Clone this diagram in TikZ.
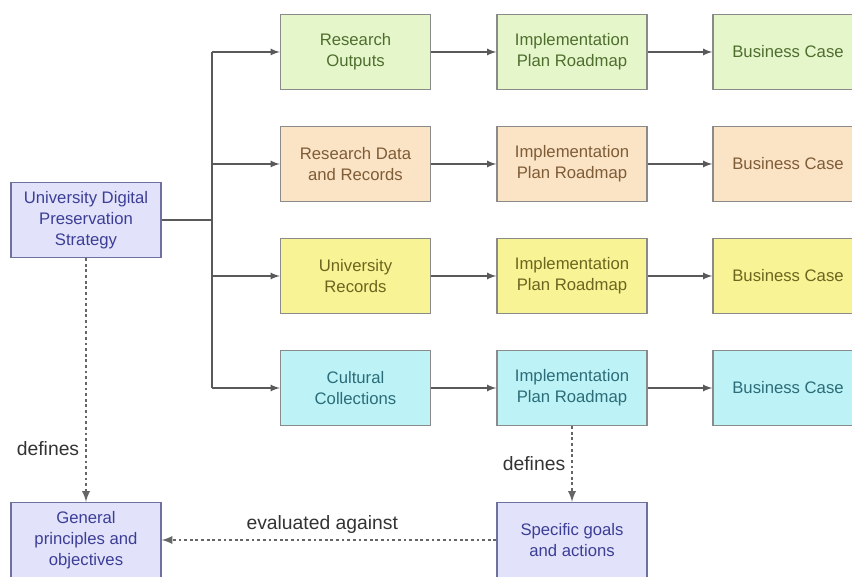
\documentclass[tikz,border=0pt]{standalone}
\usepackage{fontspec}
\setmainfont{Liberation Sans}
\usetikzlibrary{arrows,positioning,calc}
\definecolor{boxline}{HTML}{8A8A8A}
\definecolor{greenfill}{HTML}{E6F6CB}
\definecolor{greentext}{HTML}{4E6E2E}
\definecolor{orangefill}{HTML}{FBE3C5}
\definecolor{orangetext}{HTML}{7E5C36}
\definecolor{yellowfill}{HTML}{F8F394}
\definecolor{yellowtext}{HTML}{6A6620}
\definecolor{cyanfill}{HTML}{BDF3F7}
\definecolor{cyantext}{HTML}{2C6C78}
\definecolor{bluefill}{HTML}{E2E3FA}
\definecolor{bluetext}{HTML}{3C3E96}
\definecolor{blueline}{HTML}{6E70A0}
\begin{document}
\begin{tikzpicture}[>=latex, thick, font=\fontsize{9.5}{12}\selectfont,
box/.style={rectangle,draw=boxline,minimum width=3cm,minimum height=1.5cm,align=center,inner sep=2pt},
green box/.style={box,fill=greenfill,text=greentext},
orange box/.style={box,fill=orangefill,text=orangetext},
yellow box/.style={box,fill=yellowfill,text=yellowtext},
cyan box/.style={box,fill=cyanfill,text=cyantext},
blue box/.style={box,draw=blueline,fill=bluefill,text=bluetext},
flow/.style={->,draw=black!65},
link/.style={->,dash pattern=on 1.6pt off 1.6pt,line width=1.1pt,draw=black!60},
tag/.style={font=\fontsize{11}{13}\selectfont,text=black!80}]
\useasboundingbox (0,0) rectangle (17.04,11.52);
\clip (0,0) rectangle (17.04,11.52);
\begin{scope}
\node[blue box] (UDPS) at (1.72,7.12) {University Digital\\Preservation\\Strategy};
\node[green box] (RO) at (7.11,10.48) {Research\\Outputs};
\node[orange box] (RD) at (7.11,8.24) {Research Data\\and Records};
\node[yellow box] (UR) at (7.11,6.0) {University\\Records};
\node[cyan box] (CC) at (7.11,3.76) {Cultural\\Collections};
\node[green box] (IP1) at (11.44,10.48) {Implementation\\Plan Roadmap};
\node[orange box] (IP2) at (11.44,8.24) {Implementation\\Plan Roadmap};
\node[yellow box] (IP3) at (11.44,6.0) {Implementation\\Plan Roadmap};
\node[cyan box] (IP4) at (11.44,3.76) {Implementation\\Plan Roadmap};
\node[green box] (BC1) at (15.76,10.48) {Business Case};
\node[orange box] (BC2) at (15.76,8.24) {Business Case};
\node[yellow box] (BC3) at (15.76,6.0) {Business Case};
\node[cyan box] (BC4) at (15.76,3.76) {Business Case};
\node[blue box] (GPO) at (1.72,0.72) {General\\principles and\\objectives};
\node[blue box] (SGA) at (11.44,0.72) {Specific goals\\and actions};
\coordinate (fork) at (4.24,7.12);
\end{scope}
\begin{scope}
\draw[draw=black!65] (UDPS) -- (fork);
\draw[draw=black!65] (fork |- RO) -- (fork |- CC);
\foreach \n in {RO,RD,UR,CC}
  \draw[flow] (fork |- \n) -- (\n);
\foreach \i/\j/\k in {RO/IP1/BC1,RD/IP2/BC2,UR/IP3/BC3,CC/IP4/BC4}{
  \draw[flow] (\i) -- (\j);
  \draw[flow] (\j) -- (\k);
}
\draw[link] (UDPS) -- node[tag,left,pos=0.78]{defines} (GPO);
\draw[link] (IP4) -- node[tag,left,pos=0.5]{defines} (SGA);
\draw[link] (SGA) -- node[tag,above,pos=0.52]{evaluated against} (GPO);
\end{scope}
\end{tikzpicture}
\end{document}
